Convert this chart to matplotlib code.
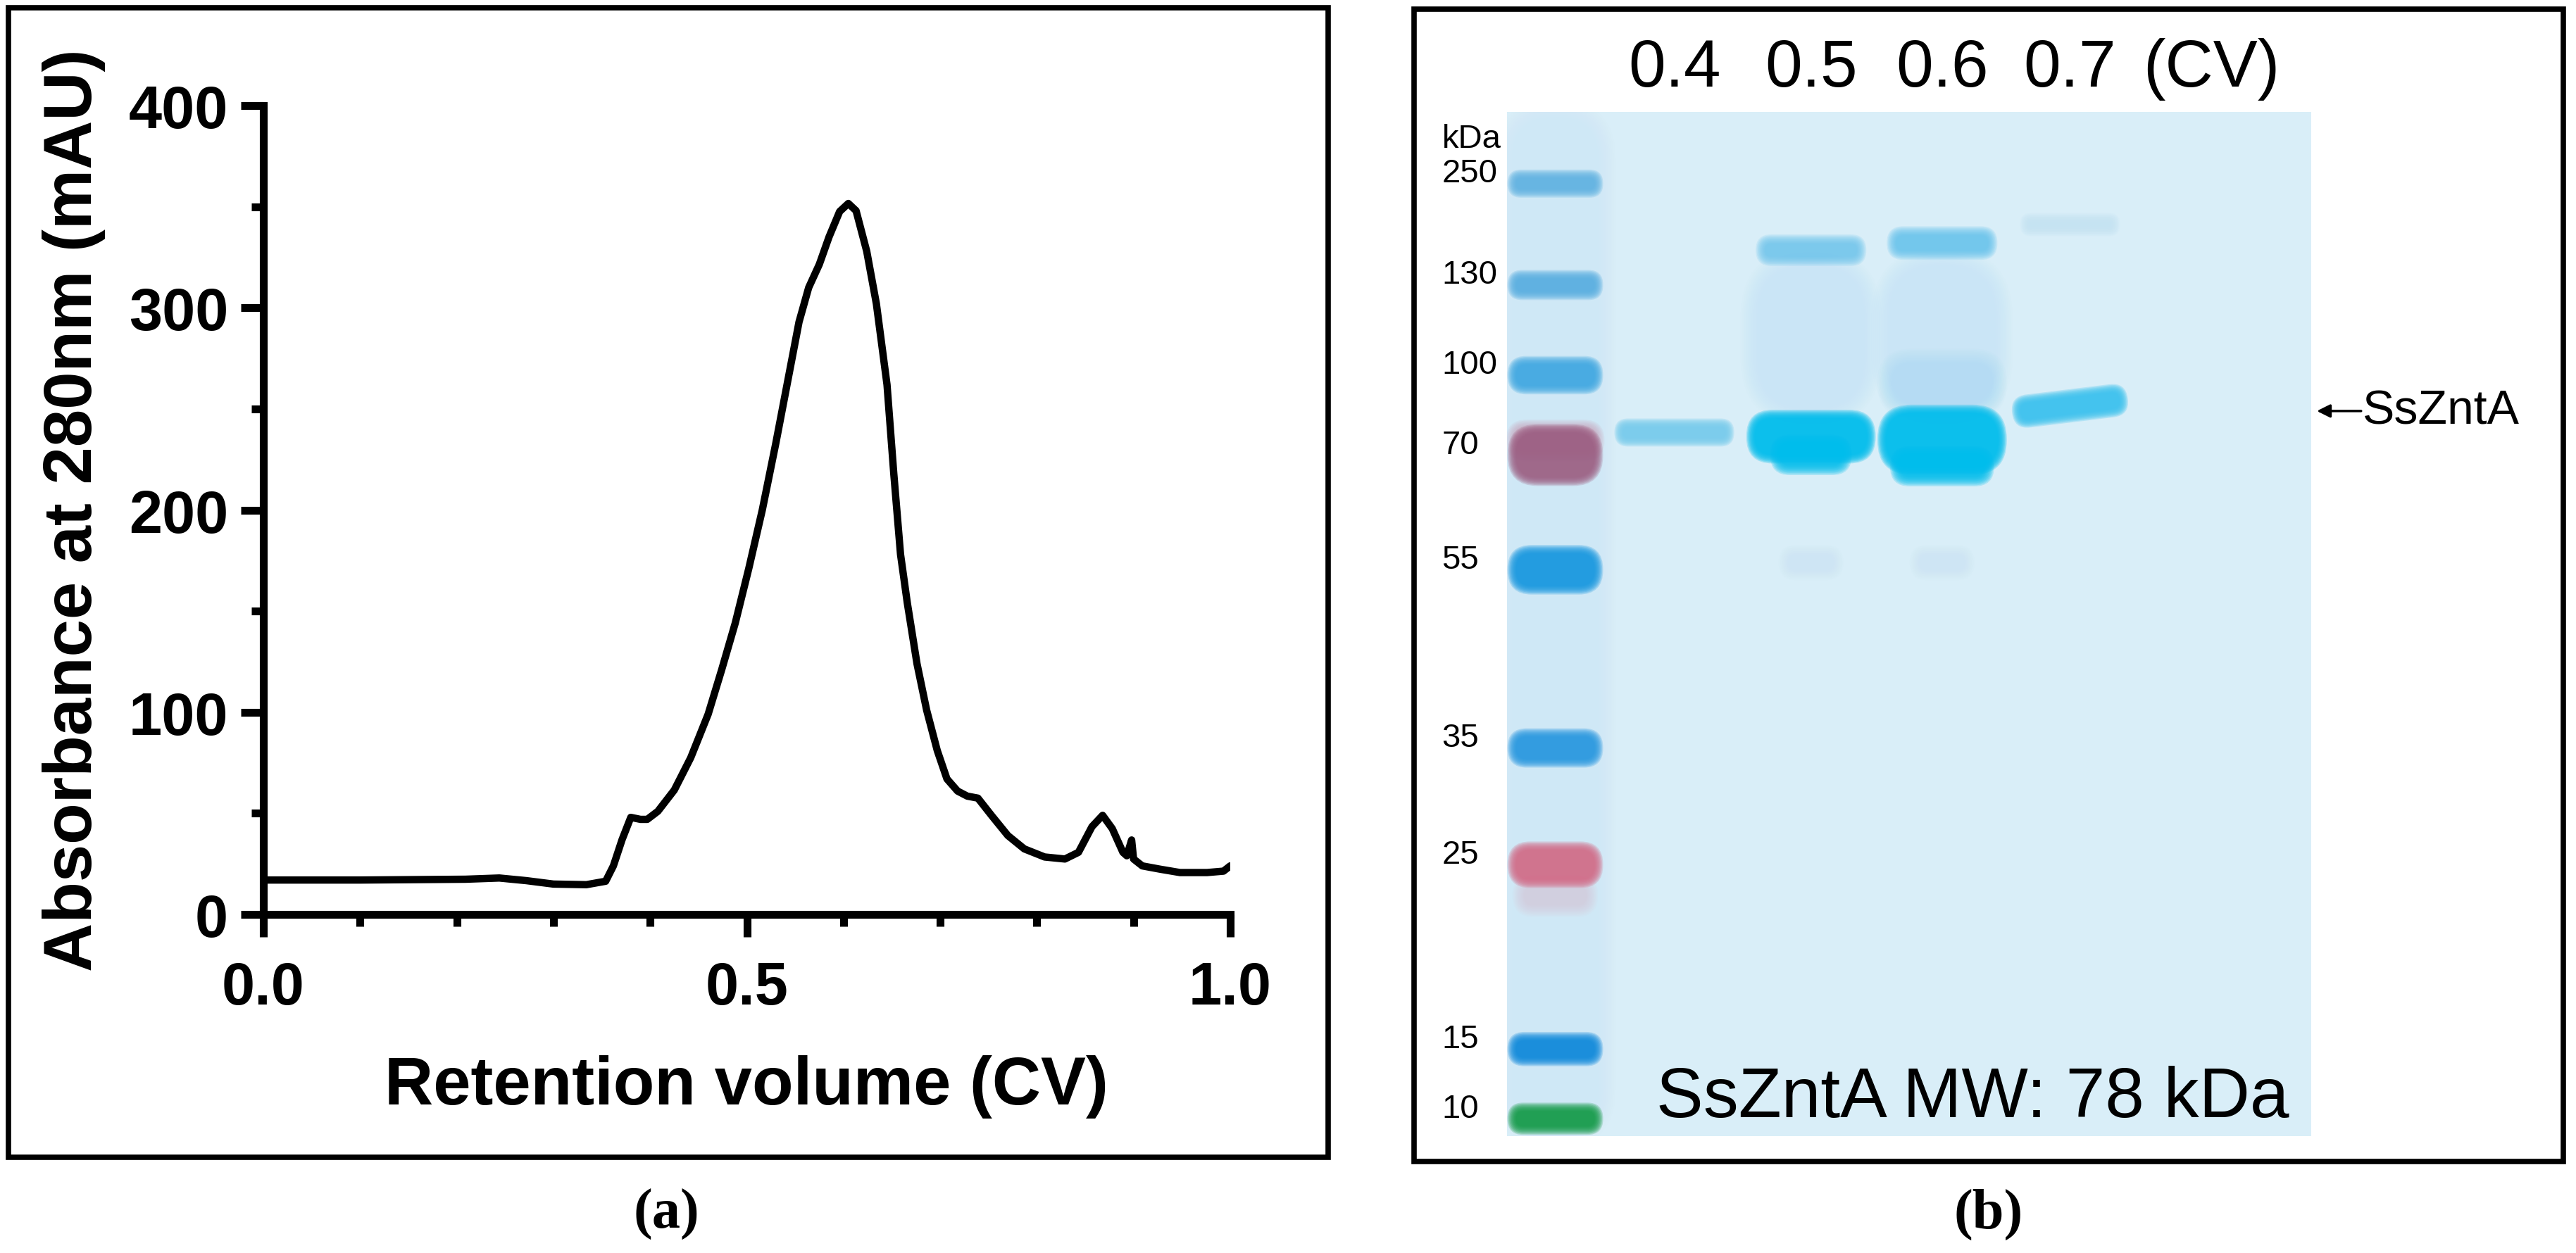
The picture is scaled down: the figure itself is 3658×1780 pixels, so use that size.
import matplotlib.pyplot as plt
from matplotlib.patches import Rectangle, FancyBboxPatch
from matplotlib.transforms import Affine2D


# figure size in pixels (saved at dpi=100)
FIG_W = 3658
FIG_H = 1781

# (a) size-exclusion chromatogram
RETENTION_CV = [
    0.000, 0.100, 0.209, 0.244, 0.272, 0.300, 0.334, 0.354, 0.362, 0.371,
    0.380, 0.390, 0.397, 0.408, 0.425, 0.442, 0.460, 0.474, 0.488, 0.502,
    0.516, 0.530, 0.544, 0.554, 0.564, 0.575, 0.585, 0.596, 0.605, 0.613,
    0.624, 0.634, 0.645, 0.652, 0.659, 0.666, 0.676, 0.686, 0.697, 0.707,
    0.718, 0.728, 0.739, 0.753, 0.770, 0.787, 0.808, 0.829, 0.843, 0.857,
    0.868, 0.878, 0.889, 0.893, 0.898, 0.900, 0.909, 0.927, 0.948, 0.976,
    0.993, 1.000,
]
ABSORBANCE_MAU = [
    17.0, 17.0, 17.4, 18.0, 16.7, 15.0, 14.7, 16.4, 24.0, 37.0,
    48.0, 47.0, 47.0, 51.0, 61.5, 77.5, 99.0, 121.0, 144.0, 171.0,
    200.0, 233.0, 268.0, 293.0, 310.0, 321.5, 335.0, 347.6, 351.6, 348.0,
    328.0, 302.0, 262.0, 218.0, 178.0, 154.0, 124.0, 101.0, 81.0, 67.0,
    61.0, 58.5, 57.5, 49.0, 39.0, 32.4, 28.4, 27.4, 30.7, 43.4,
    49.0, 42.4, 30.7, 29.0, 36.8, 27.4, 24.0, 22.4, 20.7, 20.7,
    21.4, 24.0,
]

# (b) SDS-PAGE gel: band migration given as fraction of gel length (Rf)
LADDER_KDA = ["250", "130", "100", "70", "55", "35", "25", "15", "10"]
LADDER_RF = [0.070, 0.169, 0.257, 0.335, 0.447, 0.621, 0.735, 0.915, 0.983]
LADDER_THICK = [0.011, 0.013, 0.021, 0.044, 0.032, 0.022, 0.029, 0.017, 0.015]

FRACTION_CV = ["0.4", "0.5", "0.6", "0.7"]
MAIN_BAND_RF = [0.313, 0.317, 0.320, 0.287]
MAIN_BAND_THICK = [0.011, 0.036, 0.052, 0.016]
UPPER_BAND_RF = [None, 0.135, 0.128, 0.110]
UPPER_BAND_THICK = [0.0, 0.013, 0.015, 0.005]

# style
LADDER_COLORS = ["#5fb2e2", "#58aee1", "#3ea7e2", "#9c5e82", "#1497e0",
                 "#2596e0", "#d46a86", "#0b87db", "#129a46"]
MAIN_BAND_COLORS = ["#78ccec", "#00bdec", "#00bdec", "#3cc2ee"]
UPPER_BAND_COLORS = [None, "#6cc4ec", "#62c2ec", "#c4e3f2"]
GEL_BG = "#d9eef8"

LADDER_X = 0.060
LADDER_W = 0.098
LANE_X = [0.208, 0.378, 0.541, 0.700]
LANE_W = [0.128, 0.140, 0.140, 0.124]

# gel rectangle in figure pixels
GEL_LEFT, GEL_TOP, GEL_RIGHT, GEL_BOTTOM = 2140, 160, 3282, 1615
GEL_W = GEL_RIGHT - GEL_LEFT
GEL_H = GEL_BOTTOM - GEL_TOP


def fx(px):
    return px / FIG_W


def fy(py):
    return 1 - py / FIG_H


def draw_band(ax, xc, yc, width, thick, color, blur_px=12, layers=10,
              alpha=0.2, angle=0.0):
    # soft-edged band: stacked rounded boxes that shrink towards the core
    aspect = GEL_W / GEL_H
    for i in range(layers):
        spread = blur_px * (1 - i / (layers - 1))
        w = width + 2 * spread / GEL_W
        h = thick + 2 * spread / GEL_H
        r = 0.98 * min(w, h / aspect) / 2
        patch = FancyBboxPatch(
            (xc - w / 2, yc - h / 2), w, h,
            boxstyle=f"round,pad=0,rounding_size={r}",
            mutation_aspect=aspect,
            facecolor=color, edgecolor="none", alpha=alpha,
        )
        if angle:
            cx, cy = ax.transData.transform((xc, yc))
            patch.set_transform(ax.transData + Affine2D().rotate_deg_around(cx, cy, angle))
        ax.add_patch(patch)


def panel_box(fig, left, top, right, bottom):
    fig.patches.append(
        Rectangle(
            (fx(left), fy(bottom)), fx(right) - fx(left), fy(top) - fy(bottom),
            transform=fig.transFigure, fill=False, edgecolor="black",
            linewidth=5.5, zorder=10,
        )
    )


def plot_chromatogram(fig):
    ax = fig.add_axes([fx(374), fy(1300), fx(1747) - fx(374), fy(151) - fy(1300)])

    ax.plot(RETENTION_CV, ABSORBANCE_MAU, color="black", linewidth=7.5,
            solid_joinstyle="round", solid_capstyle="round")

    ax.set_xlim(0, 1.0)
    ax.set_ylim(0, 400)
    ax.set_xticks([0.0, 0.5, 1.0])
    ax.set_xticklabels(["0.0", "0.5", "1.0"])
    ax.set_xticks([0.1, 0.2, 0.3, 0.4, 0.6, 0.7, 0.8, 0.9], minor=True)
    ax.set_yticks([0, 100, 200, 300, 400])
    ax.set_yticks([50, 150, 250, 350], minor=True)

    for side in ["top", "right"]:
        ax.spines[side].set_visible(False)
    for side in ["left", "bottom"]:
        ax.spines[side].set_linewidth(8)

    ax.tick_params(which="major", length=23, width=8, direction="out", labelsize=61)
    ax.tick_params(which="minor", length=12, width=8, direction="out")
    ax.tick_params(axis="x", which="major", pad=24)
    ax.tick_params(axis="y", which="major", pad=13)
    for label in ax.get_xticklabels() + ax.get_yticklabels():
        label.set_fontweight("bold")

    fig.text(fx(1060), fy(1569), "Retention volume (CV)", ha="center", va="baseline",
             fontsize=69, fontweight="bold")
    fig.text(fx(130), fy(725), "Absorbance at 280nm (mAU)", rotation=90,
             rotation_mode="anchor", ha="center", va="baseline",
             fontsize=69, fontweight="bold")


def plot_gel(fig):
    ax = fig.add_axes([fx(GEL_LEFT), fy(GEL_BOTTOM), fx(GEL_RIGHT) - fx(GEL_LEFT),
                       fy(GEL_TOP) - fy(GEL_BOTTOM)])
    ax.set_xlim(0, 1)
    ax.set_ylim(1, 0)
    ax.axis("off")
    ax.add_patch(Rectangle((0, 0), 1, 1, transform=ax.transAxes,
                           facecolor=GEL_BG, edgecolor="none", zorder=0))

    # marker lane
    draw_band(ax, LADDER_X, 0.5, LADDER_W * 1.1, 0.99, "#cbe8f6", blur_px=24, alpha=0.03)
    ax.text(-0.081, 0.026, "kDa", ha="left", va="center", fontsize=34)
    for kda, rf, thick, color in zip(LADDER_KDA, LADDER_RF, LADDER_THICK, LADDER_COLORS):
        if kda == "70":
            draw_band(ax, LADDER_X, rf - 0.014, LADDER_W, thick * 0.5, "#c993ad",
                      blur_px=14, alpha=0.1)
        if kda == "25":
            draw_band(ax, LADDER_X, rf + 0.03, LADDER_W * 0.8, 0.02, "#e2b8cc",
                      blur_px=16, alpha=0.06)
        draw_band(ax, LADDER_X, rf, LADDER_W, thick, color, blur_px=12, alpha=0.21)
        ax.text(-0.081, rf - 0.01, kda, ha="left", va="center", fontsize=34)

    # smear between the dimer band and the main band
    for i in [1, 2]:
        draw_band(ax, LANE_X[i], 0.22, LANE_W[i] * 0.95, 0.14, "#c2e5f6",
                  blur_px=24, alpha=0.07)
    draw_band(ax, LANE_X[2], 0.265, LANE_W[2] * 0.9, 0.04, "#a8dbf3",
              blur_px=20, alpha=0.07)

    for i, cv in enumerate(FRACTION_CV):
        angle = 7.0 if cv == "0.7" else 0.0
        if UPPER_BAND_RF[i] is not None:
            draw_band(ax, LANE_X[i], UPPER_BAND_RF[i], LANE_W[i] * 0.82,
                      UPPER_BAND_THICK[i], UPPER_BAND_COLORS[i], blur_px=13, alpha=0.16)
        draw_band(ax, LANE_X[i], MAIN_BAND_RF[i], LANE_W[i], MAIN_BAND_THICK[i],
                  MAIN_BAND_COLORS[i], blur_px=12, alpha=0.24, angle=angle)
        if cv in ("0.5", "0.6"):
            bulge_w = 0.55 if cv == "0.5" else 0.75
            draw_band(ax, LANE_X[i], MAIN_BAND_RF[i] + MAIN_BAND_THICK[i] / 2,
                      LANE_W[i] * bulge_w, 0.02, MAIN_BAND_COLORS[i], blur_px=14, alpha=0.2)
            draw_band(ax, LANE_X[i], 0.44, LANE_W[i] * 0.4, 0.015, "#c6e5f4",
                      blur_px=14, alpha=0.06)
        ax.text(LANE_X[i], -0.0254, cv, ha="center", va="baseline", fontsize=68)

    ax.text(0.791, -0.0254, "(CV)", ha="left", va="baseline", fontsize=68)

    ax.annotate("", xy=(1.007, 0.292), xytext=(1.062, 0.292),
                arrowprops=dict(arrowstyle="-|>", color="black", lw=2.5,
                                mutation_scale=28, shrinkA=0, shrinkB=0),
                annotation_clip=False)
    ax.text(1.064, 0.292, "SsZntA", ha="left", va="center", fontsize=49)

    ax.text(0.579, 0.981, "SsZntA MW: 78 kDa", ha="center", va="baseline", fontsize=72)


def main():
    plt.rcParams["font.family"] = ["Liberation Sans", "DejaVu Sans"]

    fig = plt.figure(figsize=(FIG_W / 100, FIG_H / 100), dpi=100)

    plot_chromatogram(fig)
    plot_gel(fig)

    panel_box(fig, 12, 12, 1886, 1645)
    panel_box(fig, 2008, 14, 3640, 1651)

    for cx, letter in [(946, "a"), (2824, "b")]:
        fig.text(fx(cx), fy(1725), f"({letter})", ha="center", va="center",
                 fontsize=58, fontweight="bold", family=["Liberation Serif", "DejaVu Serif"])

    fig.savefig("out.png", dpi=100, facecolor="white")
    plt.close(fig)


if __name__ == "__main__":
    main()
